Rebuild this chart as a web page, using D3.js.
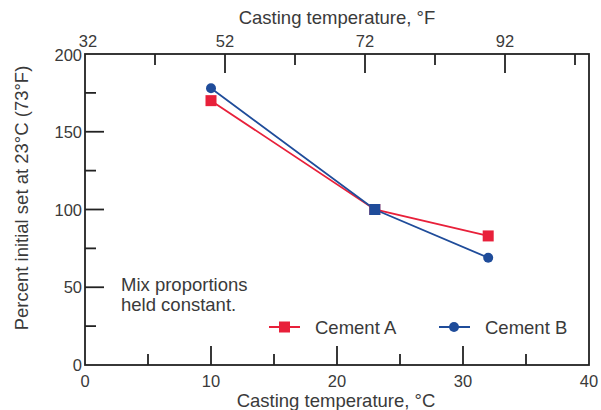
<!DOCTYPE html>
<html>
<head>
<meta charset="utf-8">
<script src="https://cdn.jsdelivr.net/npm/d3@7"></script>
<style>
  body { margin: 0; background: #fff; }
  text { font-family: "Liberation Sans", Arial, sans-serif; fill: #3a3a3a; }
</style>
</head>
<body>
<script>
const width = 601;
const height = 410;
const margin = { top: 54, right: 12, bottom: 45, left: 85 };

// data
const tempC = [10, 23, 32];
const cementA = [170, 100, 83];
const cementB = [178, 100, 69];
const seriesNames = ['Cement A', 'Cement B'];
const xTicksC = [0, 10, 20, 30, 40];
const xMinorC = [5, 15, 25, 35];
const xTicksF = [32, 52, 72, 92];
const xMinorF = [42, 62, 82, 102];
const yTicks = [0, 50, 100, 150, 200];
const yMinor = [25, 75, 125, 175];
const noteLines = ['Mix proportions', 'held constant.'];

const red = '#e8203a';
const blue = '#1f4c9a';
const ink = '#222';
const major = 19;
const minor = 11;

const svg = d3.select('body').append('svg').attr('width', width).attr('height', height);

const x = d3.scaleLinear().domain([0, 40]).range([margin.left, width - margin.right]);
const y = d3.scaleLinear().domain([0, 200]).range([height - margin.bottom, margin.top]);
const fToC = f => (f - 32) * 5 / 9;

// frame
svg.append('rect')
  .attr('x', x(0)).attr('y', y(200))
  .attr('width', x(40) - x(0)).attr('height', y(0) - y(200))
  .attr('fill', 'none').attr('stroke', ink).attr('stroke-width', 1.8);

const g = svg.append('g').attr('stroke', ink).attr('stroke-width', 1.8);

// bottom ticks (inward)
[[xTicksC.slice(1, -1), major], [xMinorC, minor]].forEach(([vals, len]) => {
  g.selectAll(null).data(vals).enter().append('line')
    .attr('x1', d => x(d)).attr('x2', d => x(d))
    .attr('y1', y(0)).attr('y2', y(0) - len);
});
// top ticks in °F (inward)
[[xTicksF.slice(1), major], [xMinorF, minor]].forEach(([vals, len]) => {
  g.selectAll(null).data(vals).enter().append('line')
    .attr('x1', d => x(fToC(d))).attr('x2', d => x(fToC(d)))
    .attr('y1', y(200)).attr('y2', y(200) + len);
});
// left ticks
[[yTicks.slice(1, -1), major], [yMinor, minor]].forEach(([vals, len]) => {
  g.selectAll(null).data(vals).enter().append('line')
    .attr('y1', d => y(d)).attr('y2', d => y(d))
    .attr('x1', x(0)).attr('x2', x(0) + len);
});

// tick labels
svg.selectAll('.xl').data(xTicksC).enter().append('text')
  .attr('x', d => x(d)).attr('y', y(0) + 22)
  .attr('text-anchor', 'middle').attr('font-size', 16.5).text(d => d);
svg.selectAll('.xf').data(xTicksF).enter().append('text')
  .attr('x', d => x(fToC(d)) + (d === 32 ? 3 : 0)).attr('y', y(200) - 7)
  .attr('text-anchor', 'middle').attr('font-size', 16.5).text(d => d);
svg.selectAll('.yl').data(yTicks).enter().append('text')
  .attr('x', x(0) - 3).attr('y', d => y(d) + (d === 200 ? 7 : 6))
  .attr('text-anchor', 'end').attr('font-size', 16.5).text(d => d);

// axis titles
svg.append('text').attr('x', 336).attr('y', 407)
  .attr('text-anchor', 'middle').attr('font-size', 18.5).text('Casting temperature, °C');
svg.append('text').attr('x', 337).attr('y', 24)
  .attr('text-anchor', 'middle').attr('font-size', 18.5).text('Casting temperature, °F');
svg.append('text')
  .attr('transform', `translate(28,198) rotate(-90)`)
  .attr('text-anchor', 'middle').attr('font-size', 18.5).text('Percent initial set at 23°C (73°F)');

// series
const line = d3.line().x((d, i) => x(tempC[i])).y(d => y(d));
svg.append('path').datum(cementA).attr('d', line)
  .attr('fill', 'none').attr('stroke', red).attr('stroke-width', 1.8);
svg.append('path').datum(cementB).attr('d', line)
  .attr('fill', 'none').attr('stroke', blue).attr('stroke-width', 1.8);

svg.selectAll('.ma').data(cementA).enter().append('rect')
  .attr('x', (d, i) => x(tempC[i]) - 5.5).attr('y', d => y(d) - 5.5)
  .attr('width', 11).attr('height', 11).attr('fill', red);
svg.selectAll('.mb').data(cementB).enter().append('circle')
  .attr('cx', (d, i) => x(tempC[i])).attr('cy', d => y(d))
  .attr('r', (d, i) => i === 1 ? 0 : 5).attr('fill', blue);
// the middle point shows a blue square over the red one
svg.append('rect')
  .attr('x', x(tempC[1]) - 5.5).attr('y', y(cementB[1]) - 5.5)
  .attr('width', 11).attr('height', 11).attr('fill', blue);

// note
svg.selectAll('.note').data(noteLines).enter().append('text')
  .attr('x', 121).attr('y', (d, i) => 291 + i * 19.5)
  .attr('font-size', 18.5).text(d => d);

// legend
const legend = [
  { name: seriesNames[0], color: red, x0: 269, shape: 'square' },
  { name: seriesNames[1], color: blue, x0: 439, shape: 'circle' }
];
const ly = 327;
legend.forEach(l => {
  svg.append('line').attr('x1', l.x0).attr('x2', l.x0 + 31)
    .attr('y1', ly).attr('y2', ly).attr('stroke', l.color).attr('stroke-width', 2);
  if (l.shape === 'square') {
    svg.append('rect').attr('x', l.x0 + 10).attr('y', ly - 5.5)
      .attr('width', 11).attr('height', 11).attr('fill', l.color);
  } else {
    svg.append('circle').attr('cx', l.x0 + 15).attr('cy', ly).attr('r', 5).attr('fill', l.color);
  }
  svg.append('text').attr('x', l.x0 + 46).attr('y', ly + 6.5)
    .attr('font-size', 18.5).text(l.name);
});
</script>
</body>
</html>
